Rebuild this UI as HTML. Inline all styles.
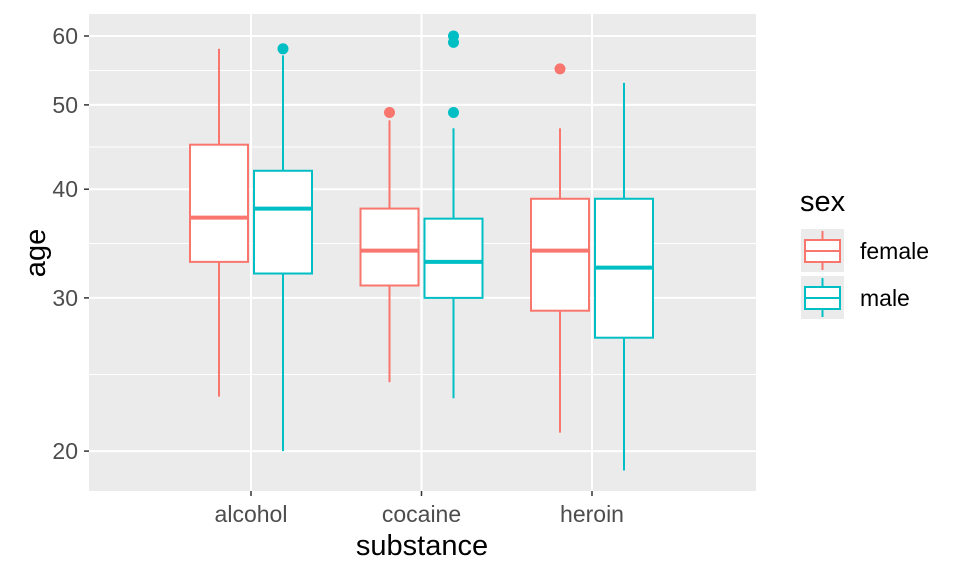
<!DOCTYPE html>
<html><head><meta charset="utf-8"><style>body{margin:0;background:#fff}svg{display:block;font-family:"Liberation Sans",sans-serif}</style></head>
<body>
<svg id="chart" width="960" height="576"></svg>
<script>
const categories=["alcohol","cocaine","heroin"];
const groups=["female","male"];
const colors=["#F8766D","#00BFC4"];
// [lower whisker, q1, median, q3, upper whisker] per category per group
const femaleStats=[[23.1,33,37.1,45,58],[24,31,34,38,48],[21,29,34,39,47]];
const maleStats=[[20,32,38,42,57],[23,30,33,37,47],[19,27,32.5,39,53]];
const femaleOutliers=[[],[49],[55]];
const maleOutliers=[[58],[60,59,49],[]];
const yTicks=[20,30,40,50,60];
const yMinor=[[20,30],[30,40],[40,50],[50,60]];

const NS="http://www.w3.org/2000/svg";
const svg=document.getElementById("chart");
const PX0=89,PX1=756,PY0=14,PY1=491;
function y(v){return 36+(Math.log10(60)-Math.log10(v))*870;}
function x(i){return 251+i*170.5;}
function mk(tag,attrs,parent){const e=document.createElementNS(NS,tag);for(const k in attrs)e.setAttribute(k,attrs[k]);(parent||svg).appendChild(e);return e;}

const panel=mk("rect",{x:PX0,y:PY0,width:PX1-PX0,height:PY1-PY0,fill:"#EBEBEB"});


yMinor.forEach(p=>{const yy=y(Math.sqrt(p[0]*p[1]));const l=mk("line",{x1:PX0,x2:PX1,y1:yy,y2:yy,stroke:"#fff","stroke-width":1});

});
yTicks.forEach(t=>{const yy=y(t);const l=mk("line",{x1:PX0,x2:PX1,y1:yy,y2:yy,stroke:"#fff","stroke-width":2});


const tk=mk("line",{x1:84,x2:89,y1:yy,y2:yy,stroke:"#333","stroke-width":1.5});


const tx=mk("text",{x:78,y:yy+8,"text-anchor":"end","font-size":23,fill:"#4D4D4D"});tx.textContent=t;

});
categories.forEach((c,i)=>{const l=mk("line",{x1:x(i),x2:x(i),y1:PY0,y2:PY1,stroke:"#fff","stroke-width":2});


const tk=mk("line",{x1:x(i),x2:x(i),y1:491,y2:496,stroke:"#333","stroke-width":1.5});


const tx=mk("text",{x:x(i),y:522,"text-anchor":"middle","font-size":23,fill:"#4D4D4D"});tx.textContent=c;

});
const allStats=[femaleStats,maleStats],allOut=[femaleOutliers,maleOutliers];
categories.forEach((c,i)=>{groups.forEach((g,gi)=>{
  const s=allStats[gi][i],cx=x(i)+(gi?32:-32),col=colors[gi],hw=29;
  const grp=mk("g",{});
  
  
  mk("line",{x1:cx,x2:cx,y1:y(s[0]),y2:y(s[1]),stroke:col,"stroke-width":2},grp);
  mk("line",{x1:cx,x2:cx,y1:y(s[3]),y2:y(s[4]),stroke:col,"stroke-width":2},grp);
  mk("rect",{x:cx-hw,y:y(s[3]),width:hw*2,height:y(s[1])-y(s[3]),fill:"#fff",stroke:col,"stroke-width":2},grp);
  mk("line",{x1:cx-hw,x2:cx+hw,y1:y(s[2]),y2:y(s[2]),stroke:col,"stroke-width":4},grp);
  allOut[gi][i].forEach(o=>{const p=mk("circle",{cx:cx,cy:y(o),r:5.5,fill:col},grp);
  
  });
});});
function txt(s,a,name){const t=mk("text",a);t.textContent=s;return t;}
txt("substance",{x:422,y:555,"text-anchor":"middle","font-size":29,fill:"#000"},"x-axis-title");
txt("age",{x:0,y:0,"font-size":29,fill:"#000","text-anchor":"middle",transform:"translate(45,253) rotate(-90)"},"y-axis-title");
txt("sex",{x:800,y:211,"font-size":29,fill:"#000"},"legend-title");
groups.forEach((g,gi)=>{const ky=229+gi*47,col=colors[gi];
  const k=mk("g",{});
  
  
  mk("rect",{x:801,y:ky,width:43,height:43,fill:"#EBEBEB"},k);
  mk("line",{x1:822.5,x2:822.5,y1:ky+2,y2:ky+41,stroke:col,"stroke-width":2},k);
  mk("rect",{x:805,y:ky+11,width:35,height:22,fill:"#fff",stroke:col,"stroke-width":2},k);
  mk("line",{x1:805,x2:840,y1:ky+22,y2:ky+22,stroke:col,"stroke-width":2},k);
  const t=mk("text",{x:860,y:ky+30,"font-size":23,fill:"#000"},k);t.textContent=g;
});
</script>
</body></html>
